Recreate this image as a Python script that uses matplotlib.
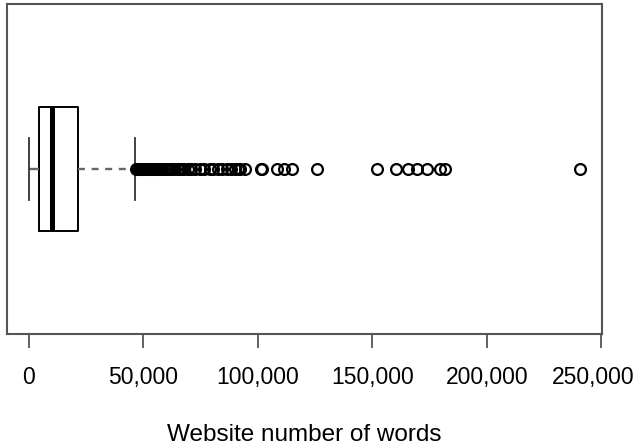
import matplotlib
matplotlib.use("Agg")
import matplotlib.pyplot as plt
from matplotlib.ticker import FuncFormatter
from matplotlib.transforms import ScaledTranslation

plt.rcParams["font.family"] = ["Liberation Sans", "DejaVu Sans"]
plt.rcParams["lines.scale_dashes"] = False

# Summary statistics of the word counts
q1 = 4400
median = 10050
q3 = 21400
whisker_low = 0
whisker_high = 46300

# Points beyond the upper whisker (words per website)
outliers_k = [
    47.0, 47.3, 47.6, 47.9, 48.2, 48.5, 48.8, 49.1, 49.5, 49.9, 50.3, 50.7,
    51.1, 51.6, 52.1, 52.6, 53.1, 53.7, 54.3, 55.0, 55.8, 57.0, 58.2, 59.4,
    60.5, 61.6, 62.7, 63.8, 65.0, 66.0, 67.0, 68.0, 69.5, 71.0, 72.5, 74.7,
    76.5, 79.1, 80.5, 82.6, 84.5, 86.5, 88.5, 90.0, 91.2, 92.2, 94.4, 101.2,
    101.8, 108.3, 111.4, 114.8, 125.7, 152.0, 160.3, 165.8, 169.4, 173.8,
    179.6, 181.8, 240.8,
]
outliers = [v * 1000 for v in outliers_k]

x_ticks = [0, 50000, 100000, 150000, 200000, 250000]
x_label = "Website number of words"

fig = plt.figure(figsize=(6.38, 4.47), dpi=100)
ax = fig.add_axes([6.7 / 638, 1 - 334 / 447, (602.3 - 6.7) / 638, (334 - 4) / 447])

stats = [dict(med=median, q1=q1, q3=q3, whislo=whisker_low, whishi=whisker_high,
              fliers=outliers)]
parts = ax.bxp(
    stats, positions=[1], vert=False, widths=0.373, capwidths=0.188,
    boxprops=dict(color="black", linewidth=1.4),
    medianprops=dict(color="black", linewidth=3.6, solid_capstyle="butt"),
    whiskerprops=dict(color="#666666", linewidth=1.7, linestyle=(0, (5, 4.8))),
    capprops=dict(color="#333333", linewidth=1.3),
    flierprops=dict(marker="o", markersize=7.8, markerfacecolor="none",
                    markeredgecolor="black", markeredgewidth=1.6),
)
# the short lower whisker reads as one continuous dash
parts["whiskers"][0].set_linestyle((0, (10, 5)))

data_max = max(outliers)
pad = 0.04 * (data_max - whisker_low)
ax.set_xlim(whisker_low - pad, data_max + pad)
ax.set_ylim(0.5, 1.5)

ax.set_xticks(x_ticks)
ax.xaxis.set_major_formatter(FuncFormatter(lambda v, p: f"{int(v):,}"))
ax.set_yticks([])
ax.tick_params(axis="x", direction="out", length=10, width=1.3, color="#555555",
               labelsize=16.5, pad=13, labelcolor="black")
for s in ax.spines.values():
    s.set_color("#555555")
    s.set_linewidth(1.5)

# nudge the last tick label so it stays inside the figure
last = ax.xaxis.get_major_ticks()[-1].label1
last.set_transform(last.get_transform() + ScaledTranslation(-0.08, 0, fig.dpi_scale_trans))

ax.set_xlabel(x_label, fontsize=17.5, labelpad=25)

fig.savefig("out.png", dpi=100)
